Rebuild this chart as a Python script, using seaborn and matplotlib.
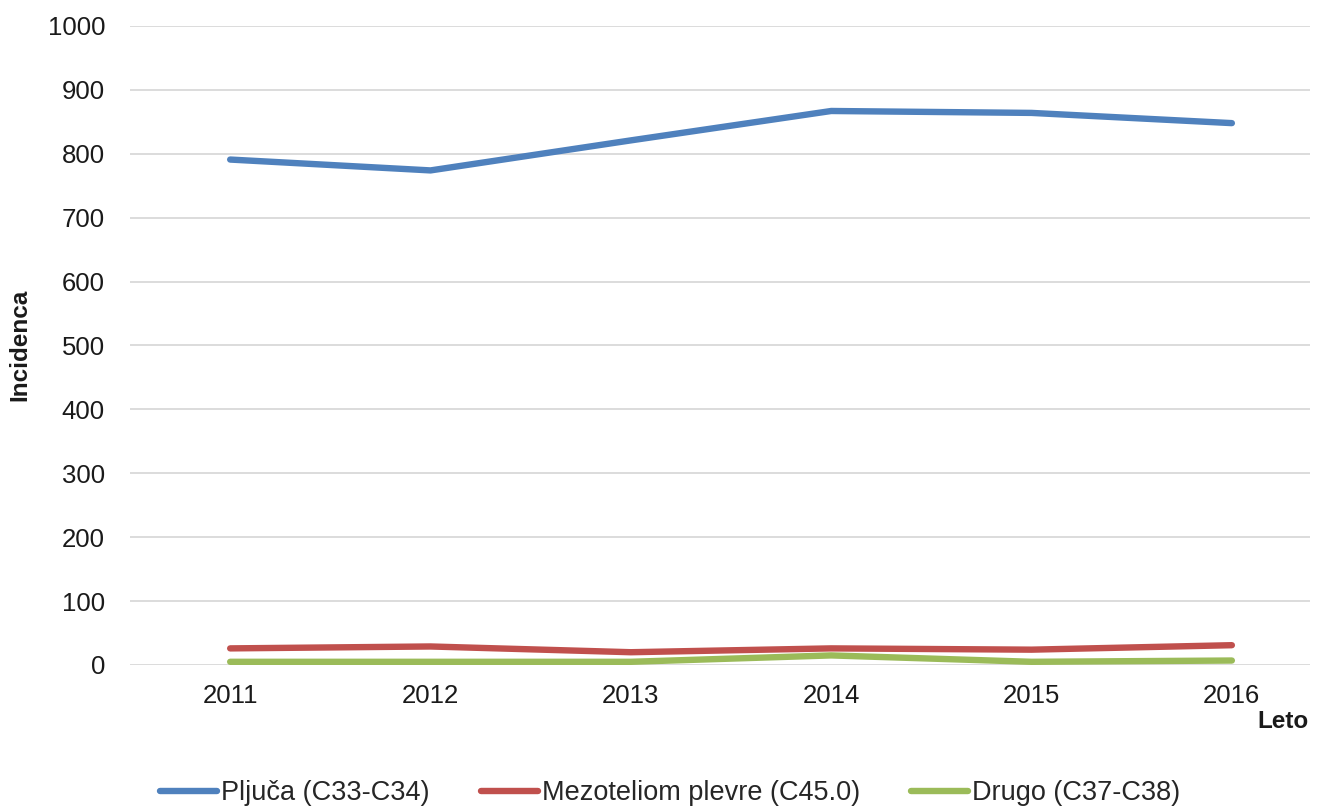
import matplotlib
matplotlib.use("Agg")
import matplotlib.pyplot as plt
import seaborn as sns
import pandas as pd

years = [2011, 2012, 2013, 2014, 2015, 2016]
pljuca = [791, 774, 821, 867, 864, 848]
mezoteliom = [26, 29, 20, 26, 24, 31]
drugo = [5, 5, 5, 15, 5, 7]
series_names = ["Pljuča (C33-C34)", "Mezoteliom plevre (C45.0)", "Drugo (C37-C38)"]
colors = ["#4F81BD", "#C0504D", "#9BBB59"]
yticks = list(range(0, 1001, 100))

df = pd.DataFrame({
    "Leto": years * 3,
    "Incidenca": pljuca + mezoteliom + drugo,
    "Serija": [series_names[0]] * 6 + [series_names[1]] * 6 + [series_names[2]] * 6,
})

sns.set_theme(style="white")
plt.rcParams["font.family"] = ["Liberation Sans", "DejaVu Sans"]

fig = plt.figure(figsize=(13.22, 8.08), dpi=100)
ax = fig.add_axes([130 / 1322, 1 - 665 / 808, 1180 / 1322, 639 / 808])

sns.lineplot(data=df, x="Leto", y="Incidenca", hue="Serija", hue_order=series_names,
             palette=colors, linewidth=4.6, ax=ax, legend=True)
for ln in ax.get_lines():
    ln.set_solid_capstyle("round")

ax.set_xlim(2010.5, 2016.39)
ax.set_ylim(0, 1000)
ax.set_yticks(yticks)
ax.set_xticks(years)
ax.set_xticklabels([str(y) for y in years])
ax.yaxis.grid(True, color="#D9D9D9", linewidth=1.3)
ax.set_axisbelow(True)
for s in ["top", "right", "left", "bottom"]:
    ax.spines[s].set_visible(False)
ax.tick_params(axis="both", length=0, labelsize=18.5, colors="#1a1a1a")
ax.tick_params(axis="y", pad=18)
ax.tick_params(axis="x", pad=14)
ax.set_xlabel("")
ax.set_ylabel("")
fig.text(20 / 1322, 1 - 345 / 808, "Incidenca", rotation=90, ha="center", va="center",
         fontsize=17.5, fontweight="bold", color="#1a1a1a")
fig.text(1283 / 1322, 1 - 722 / 808, "Leto", ha="center", va="center",
         fontsize=17.5, fontweight="bold", color="#1a1a1a")

handles, labels = ax.get_legend_handles_labels()
ax.legend(handles, labels, loc="center", frameon=False, ncol=3, fontsize=19.5,
          handlelength=2.1, handletextpad=0.15, columnspacing=1.9)
leg = ax.get_legend()
leg.set_bbox_to_anchor((670 / 1322, 1 - 793 / 808), transform=fig.transFigure)

fig.savefig("out.png", dpi=100)
